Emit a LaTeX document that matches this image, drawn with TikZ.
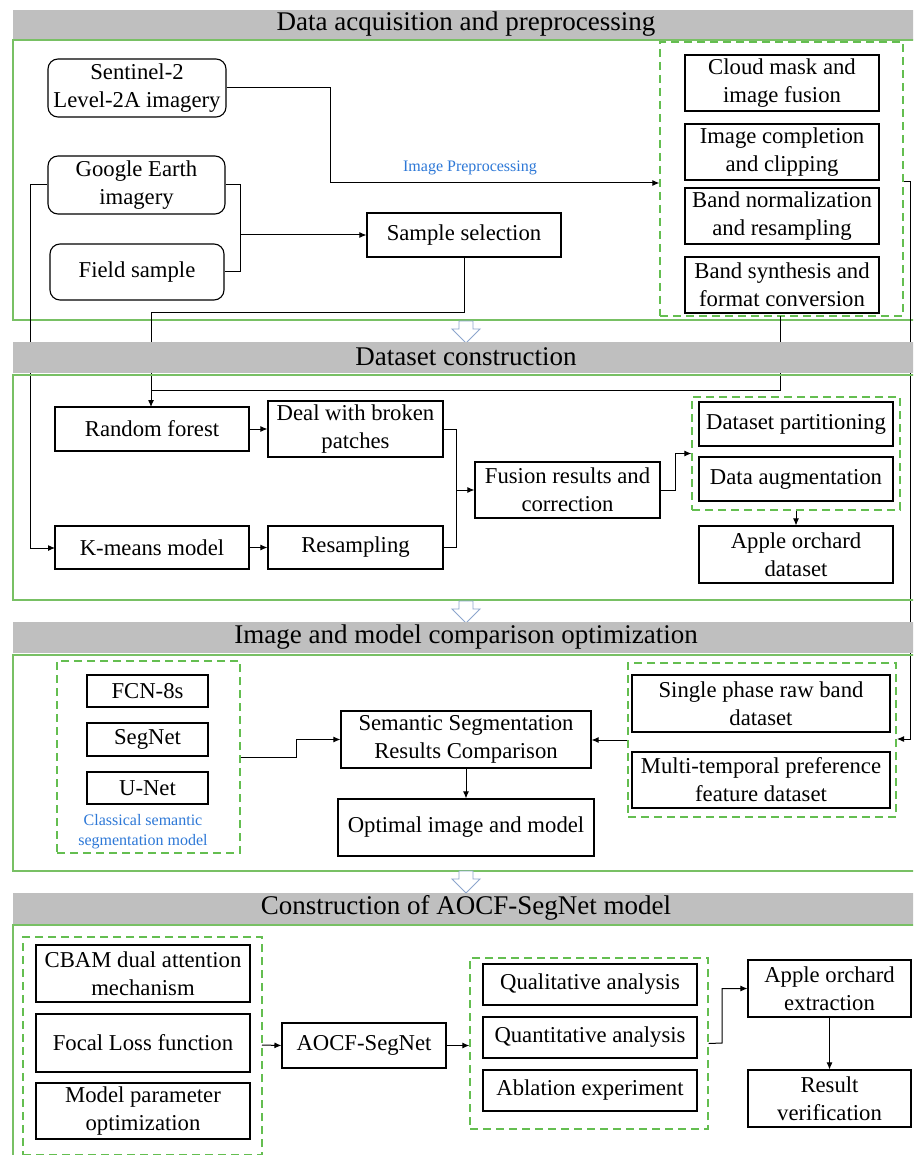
\documentclass[tikz,border=0pt]{standalone}
\usepackage{fontspec}
\setmainfont{Liberation Serif}
\usetikzlibrary{arrows.meta}
\definecolor{hdrgray}{RGB}{191,191,191}
\definecolor{framegreen}{RGB}{120,192,100}
\definecolor{dashgreen}{RGB}{100,190,80}
\definecolor{lblblue}{RGB}{45,120,215}
\definecolor{barrow}{RGB}{140,165,205}
\tikzset{
  box/.style={draw=black, line width=1.1pt, align=center, inner sep=0pt,
    font=\fontsize{22.7}{28}\selectfont},
  rbox/.style={box, rounded corners=10pt},
  grp/.style={draw=dashgreen, line width=1.3pt, dash pattern=on 8pt off 5pt, inner sep=0pt},
  hdr/.style={fill=hdrgray, draw=none, inner sep=0pt, font=\fontsize{27}{30}\selectfont},
  frm/.style={draw=framegreen, line width=1.3pt},
  arr/.style={line width=1pt, -{Latex[length=7pt,width=6pt]}},
  ln/.style={line width=1pt},
  lbl/.style={text=lblblue, font=\fontsize{16}{20}\selectfont, align=center, inner sep=0pt},
  blk/.style={draw=barrow, fill=white, line width=0.9pt}
}
% \Bx{style}{x1}{y1}{x2}{y2}{name}{text}
\newcommand{\Bx}[7]{\node[#1,minimum width={((#4)-(#2))*1pt},minimum height={((#5)-(#3))*1pt}] (#6) at ({((#2)+(#4))/2},{((#3)+(#5))/2}) {#7};}
\newcommand{\BlkArrow}[1]{\draw[blk] (459,#1) -- (473,#1) -- (473,#1+8) -- (480,#1+8) -- (466,#1+22) -- (452,#1+8) -- (459,#1+8) -- cycle;}
\begin{document}
\begin{tikzpicture}[x=1pt,y=-1pt]
\useasboundingbox (0,0) rectangle (913,1155);
\clip (0,0) rectangle (913,1155);
\fill[white] (0,0) rectangle (913,1155);

% ---------- Section 1 ----------
\Bx{hdr}{13}{10}{915}{40}{h1}{}
\node[font=\fontsize{27}{30}\selectfont] (t1) at (466,24) {Data acquisition and preprocessing};
\draw[frm] (13,40) rectangle (920,320);
\Bx{rbox}{48}{59}{226}{117}{s2}{Sentinel-2\\Level-2A imagery}
\Bx{rbox}{48}{156}{225}{214}{ge}{Google Earth\\imagery}
\Bx{rbox}{50}{244}{224}{300}{fs}{Field sample}
\Bx{box}{367}{213}{561}{257}{ss}{Sample selection}
\Bx{grp}{660}{42}{903}{316}{g1}{}
\Bx{box}{685}{55}{879}{111}{c1}{Cloud mask and\\image fusion}
\Bx{box}{685}{124}{879}{180}{c2}{Image completion\\and clipping}
\Bx{box}{685}{188}{879}{244}{c3}{Band normalization\\and resampling}
\Bx{box}{685}{257}{879}{313}{c4}{Band synthesis and\\format conversion}
\node[lbl] (ipl) at (470,168) {Image Preprocessing};

\draw[arr] (s2.east) -- (330,88) -- (330,183) -- (g1.west |- 0,183);
\draw[ln] (ge.east) -- (240,185) |- (fs.east);
\draw[arr] (240,235) -- (ss.west);
\draw[arr] (ge.west) -- (30,185) |- (55,548);
\draw[arr] (ss.south) -- (464,312) -| (151,407);
\draw[ln] (780,316) -- (780,390) -- (151,390);
\draw[arr] (g1.east |- 0,182) -- (910,182) |- (897,739);

\BlkArrow{321}

% ---------- Section 2 ----------
\Bx{hdr}{13}{342}{915}{373}{h2}{}
\node[font=\fontsize{27}{30}\selectfont] (t2) at (466,357) {Dataset construction};
\draw[frm] (13,375) rectangle (920,600);
\Bx{box}{55}{407}{249}{451}{rf}{Random forest}
\Bx{box}{268}{401}{443}{457}{db}{Deal with broken\\patches}
\Bx{box}{55}{526}{249}{569}{km}{K-means model}
\Bx{box}{268}{526}{443}{569}{rs}{Resampling}
\Bx{box}{475}{462}{660}{518}{fu}{Fusion results and\\correction}
\Bx{grp}{692}{397}{900}{510}{g2}{}
\Bx{box}{699}{402}{893}{446}{dp}{Dataset partitioning}
\Bx{box}{699}{457}{893}{501}{da}{Data augmentation}
\Bx{box}{699}{526}{893}{583}{ad}{Apple orchard\\dataset}

\draw[arr] (rf.east) -- (db.west |- rf.east);
\draw[arr] (km.east) -- (rs.west);
\draw[ln] (db.east) -- (456,429) |- (rs.east);
\draw[arr] (456,490) -- (fu.west);
\draw[arr] (fu.east) -- (675,490) |- (g2.west);
\draw[arr] (g2.south) -- (ad.north);

\BlkArrow{601}

% ---------- Section 3 ----------
\Bx{hdr}{13}{622}{915}{653}{h3}{}
\node[font=\fontsize{27}{30}\selectfont] (t3) at (466,637) {Image and model comparison optimization};
\draw[frm] (13,655) rectangle (920,871);
\Bx{grp}{57}{661}{240}{853}{g3l}{}
\Bx{box}{87}{675}{208}{707}{fcn}{FCN-8s}
\Bx{box}{87}{723}{208}{756}{sn}{SegNet}
\Bx{box}{87}{772}{208}{804}{un}{U-Net}
\node[lbl] (csl) at (143,832) {Classical semantic\\segmentation model};
\Bx{box}{341}{711}{591}{768}{sc}{Semantic Segmentation\\Results Comparison}
\Bx{box}{338}{799}{594}{856}{op}{Optimal image and model}
\Bx{grp}{628}{663}{896}{817}{g3r}{}
\Bx{box}{632}{675}{890}{732}{sp}{Single phase raw band\\dataset}
\Bx{box}{632}{752}{890}{808}{mt}{Multi-temporal preference\\feature dataset}

\draw[arr] (g3l.east) -- (296,757) |- (sc.west);
\draw[arr] (g3r.west) -- (sc.east |- g3r.west);
\draw[arr] (sc.south) -- (sc.south |- op.north);

\BlkArrow{871}

% ---------- Section 4 ----------
\Bx{hdr}{13}{893}{915}{924}{h4}{}
\node[font=\fontsize{27}{30}\selectfont] (t4) at (466,908) {Construction of AOCF-SegNet model};
\draw[frm] (13,925) rectangle (920,1170);
\Bx{grp}{23}{937}{262}{1155}{g4l}{}
\Bx{box}{36}{945}{250}{1002}{cb}{CBAM dual attention\\mechanism}
\Bx{box}{36}{1014}{250}{1072}{fl}{Focal Loss function}
\Bx{box}{36}{1083}{250}{1139}{mp}{Model parameter\\optimization}
\Bx{box}{282}{1023}{446}{1068}{ao}{AOCF-SegNet}
\Bx{grp}{470}{958}{708}{1129}{g4m}{}
\Bx{box}{483}{964}{697}{1005}{qa}{Qualitative analysis}
\Bx{box}{483}{1017}{697}{1058}{qn}{Quantitative analysis}
\Bx{box}{483}{1070}{697}{1111}{ab}{Ablation experiment}
\Bx{box}{748}{960}{911}{1017}{ex}{Apple orchard\\extraction}
\Bx{box}{748}{1070}{911}{1127}{rv}{Result\\verification}

\draw[arr] (262,1045) -- (ao.west);
\draw[arr] (ao.east) -- (g4m.west |- ao.east);
\draw[arr] (g4m.east) -- (722,1043) |- (ex.west);
\draw[arr] (ex.south) -- (rv.north);
\end{tikzpicture}
\end{document}
